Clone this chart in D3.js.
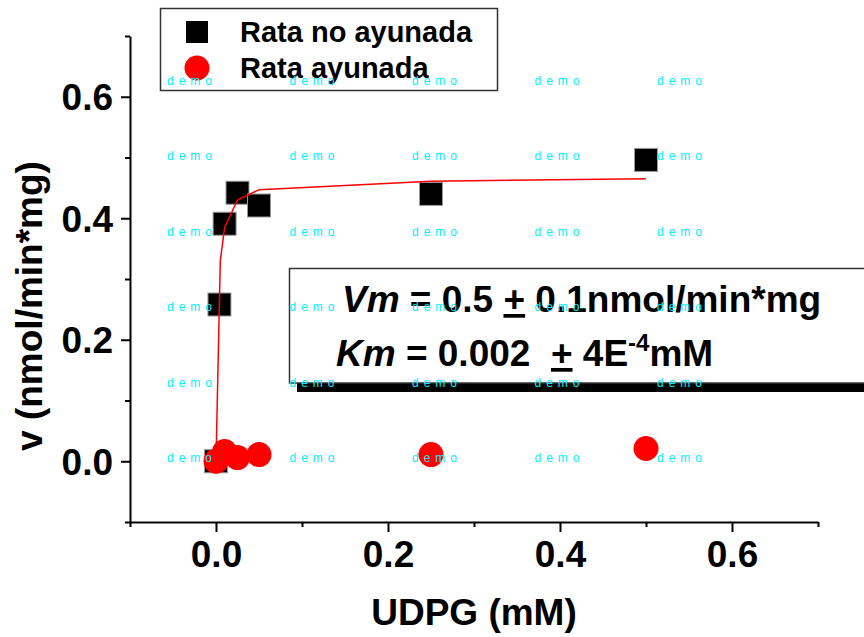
<!DOCTYPE html>
<html>
<head>
<meta charset="utf-8">
<script src="https://cdn.jsdelivr.net/npm/d3@7"></script>
<style>
  body { margin: 0; background: #fff; }
  svg { display: block; font-family: "Liberation Sans", Arial, sans-serif; font-weight: bold; }
</style>
</head>
<body>
<svg id="chart" width="864" height="637"></svg>
<script>
// Data
const xNoAyunada = [0, 0.004, 0.01, 0.025, 0.05, 0.25, 0.5];
const vNoAyunada = [0, 0.258, 0.391, 0.442, 0.421, 0.44, 0.496];

const xAyunada = [0, 0.01, 0.025, 0.05, 0.25, 0.5];
const vAyunada = [0, 0.016, 0.006, 0.011, 0.011, 0.021];

// fitted curve (as drawn)
const xFit = [0, 0.005, 0.01, 0.025, 0.05, 0.25, 0.5];
const vFit = [0, 0.33, 0.385, 0.43, 0.447, 0.461, 0.465];

const xMajor = [0, 0.2, 0.4, 0.6];
const xMinor = [-0.1, 0.1, 0.3, 0.5, 0.7];
const yMajor = [0, 0.2, 0.4, 0.6];
const yMinor = [-0.1, 0.1, 0.3, 0.5, 0.7];

const legendLabels = ['Rata no ayunada', 'Rata ayunada'];

const svg = d3.select('#chart');

const x = d3.scaleLinear().domain([-0.1, 0.7]).range([130, 818]);
const y = d3.scaleLinear().domain([-0.1, 0.7]).range([522, 36]);

const fmt = d3.format('.1f');

// Axes
const xAxisG = svg.append('g').attr('transform', 'translate(0,522)');
xAxisG.call(d3.axisBottom(x).tickValues(xMinor).tickSize(5).tickFormat(''));
xAxisG.call(g => g.select('.domain').remove());
const xMaj = svg.append('g').attr('transform', 'translate(0,522)')
    .call(d3.axisBottom(x).tickValues(xMajor).tickSize(10).tickSizeOuter(0).tickFormat(fmt));

const yAxisG = svg.append('g').attr('transform', 'translate(130,0)');
yAxisG.call(d3.axisLeft(y).tickValues(yMinor).tickSize(5).tickFormat(''));
yAxisG.call(g => g.select('.domain').remove());
const yMaj = svg.append('g').attr('transform', 'translate(130,0)')
    .call(d3.axisLeft(y).tickValues(yMajor).tickSize(9).tickSizeOuter(0).tickFormat(fmt));

svg.selectAll('.domain, .tick line').attr('stroke', '#000').attr('stroke-width', 2);

xMaj.selectAll('.tick text')
    .attr('font-family', '"Liberation Sans", Arial, sans-serif')
    .attr('font-weight', 'bold')
    .attr('font-size', 37).attr('fill', '#000')
    .attr('dy', null).attr('y', 45);

yMaj.selectAll('.tick text')
    .attr('font-family', '"Liberation Sans", Arial, sans-serif')
    .attr('font-weight', 'bold')
    .attr('font-size', 37).attr('fill', '#000')
    .attr('x', -17).attr('dy', 13);

// Axis titles
svg.append('text')
    .attr('x', 474).attr('y', 625)
    .attr('text-anchor', 'middle')
    .attr('font-size', 37)
    .text('UDPG (mM)');

svg.append('text')
    .attr('transform', 'translate(42,306) rotate(-90)')
    .attr('text-anchor', 'middle')
    .attr('font-size', 37)
    .text('v (nmol/min*mg)');

// Marks
const sq = 23;
svg.append('g').selectAll('rect')
    .data(xNoAyunada.map((d, i) => ({ x: d, v: vNoAyunada[i] })))
    .join('rect')
    .attr('x', d => x(d.x) - sq / 2)
    .attr('y', d => y(d.v) - sq / 2)
    .attr('width', sq).attr('height', sq)
    .attr('fill', '#000')
    .attr('stroke', '#999').attr('stroke-width', 1);

const line = d3.line()
    .x(d => x(d.x))
    .y(d => y(d.v));

svg.append('path')
    .datum(xFit.map((d, i) => ({ x: d, v: vFit[i] })))
    .attr('fill', 'none')
    .attr('stroke', '#ff0000')
    .attr('stroke-width', 1.5)
    .attr('d', line);

svg.append('g').selectAll('circle')
    .data(xAyunada.map((d, i) => ({ x: d, v: vAyunada[i] })))
    .join('circle')
    .attr('cx', d => x(d.x))
    .attr('cy', d => y(d.v))
    .attr('r', 12.5)
    .attr('fill', '#ff0000');

// Legend
const leg = svg.append('g');
leg.append('rect')
    .attr('x', 160.5).attr('y', 8.5).attr('width', 337).attr('height', 82)
    .attr('fill', '#fff').attr('stroke', '#333').attr('stroke-width', 1.5);
leg.append('rect')
    .attr('x', 197 - 11).attr('y', 32 - 11).attr('width', 22).attr('height', 22)
    .attr('fill', '#000');
leg.append('circle')
    .attr('cx', 197).attr('cy', 68).attr('r', 12.5).attr('fill', '#ff0000');
leg.selectAll('text')
    .data(legendLabels)
    .join('text')
    .attr('x', 240)
    .attr('y', (d, i) => 42 + i * 36)
    .attr('font-size', 29)
    .text(d => d);

// Results box with shadow
svg.append('rect')
    .attr('x', 297).attr('y', 276).attr('width', 600).attr('height', 116)
    .attr('fill', '#000');
svg.append('rect')
    .attr('x', 289.5).attr('y', 268.5).attr('width', 600).attr('height', 114.5)
    .attr('fill', '#fff').attr('stroke', '#333').attr('stroke-width', 1.5);

const t1 = svg.append('text').attr('x', 342).attr('y', 312).attr('font-size', 37);
t1.append('tspan').attr('font-style', 'italic').text('Vm');
t1.append('tspan').text(' = 0.5 ');
t1.append('tspan').attr('text-decoration', 'underline').text('+');
t1.append('tspan').text(' 0.1nmol/min*mg');

const t2 = svg.append('text').attr('x', 336).attr('y', 366).attr('font-size', 37);
t2.append('tspan').attr('font-style', 'italic').text('Km');
t2.append('tspan').text(' = 0.002 \u00a0');
t2.append('tspan').attr('text-decoration', 'underline').text('+');
t2.append('tspan').text(' 4E');
t2.append('tspan').attr('font-size', 24).attr('dy', -15).text('-4');
t2.append('tspan').attr('dy', 15).text('mM');

// "demo" watermark grid
const wm = svg.append('g')
    .attr('font-family', 'Arial, "Liberation Sans", sans-serif')
    .attr('font-weight', 'normal')
    .attr('font-size', 12)
    .attr('fill', '#00f0ff');
for (let r = 0; r < 6; r++) {
    for (let c = 0; c < 5; c++) {
        wm.append('text')
            .attr('x', 167 + c * 122.5)
            .attr('y', 85 + r * 75.4)
            .attr('letter-spacing', 5)
            .text('demo');
    }
}
</script>
</body>
</html>
